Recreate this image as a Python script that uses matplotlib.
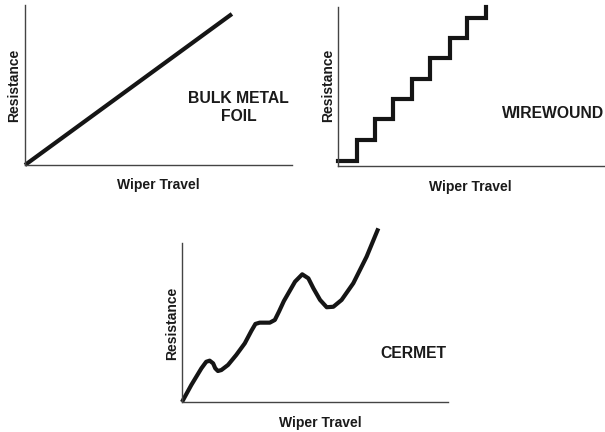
import numpy as np
import matplotlib.pyplot as plt

plt.rcParams['font.family'] = ['Liberation Sans', 'DejaVu Sans']

# bulk metal foil: straight line
foil_x = [0, 77.5]
foil_y = [0, 94.4]

# wirewound: step edges and levels
wire_edges = [0, 7.1, 13.9, 20.6, 27.7, 34.5, 41.9, 48.3, 55.4]
wire_levels = [3.1, 16.4, 29.6, 42.1, 54.7, 67.9, 80.5, 93.1, 100]

# cermet: wavy curve
cermet_x = [0, 3.5, 7.3, 9.1, 10.4, 11.7, 12.5, 13.5, 14.8, 17.3, 20.4, 23.6,
            26.1, 27.6, 29.2, 33.0, 34.9, 36.5, 38.3, 42.5, 45.2, 47.5, 49.4,
            51.9, 54.4, 56.9, 60.0, 64.4, 69.4, 73.8]
cermet_y = [0, 10.7, 21.2, 25.3, 26.0, 24.3, 21.2, 19.5, 20.1, 23.3, 29.6, 36.9,
            44.8, 49.1, 49.9, 49.9, 51.6, 57.0, 63.5, 75.7, 80.3, 77.8, 71.5,
            64.2, 59.6, 59.9, 64.2, 74.7, 91.4, 109.2]

LINE = '#151515'
TXT = '#1a1a1a'


def setup(ax, name, name_pos, xl_pos, yl_pos):
    ax.set_xlim(0, 100)
    ax.set_ylim(0, 100)
    for s in ['top', 'right']:
        ax.spines[s].set_visible(False)
    for s in ['left', 'bottom']:
        ax.spines[s].set_color('#444444')
        ax.spines[s].set_linewidth(1.0)
    ax.set_xticks([])
    ax.set_yticks([])
    ax.text(xl_pos[0], xl_pos[1], 'Wiper Travel', transform=ax.transAxes,
            ha='center', va='center', fontsize=10, fontweight='bold', color=TXT)
    ax.text(yl_pos[0], yl_pos[1], 'Resistance', transform=ax.transAxes,
            ha='center', va='center', rotation=90, fontsize=10,
            fontweight='bold', color=TXT)
    ax.text(name_pos[0], name_pos[1], name, transform=ax.transAxes,
            ha='center', va='center', fontsize=11.3, fontweight='bold',
            color=TXT, linespacing=1.25)


fig = plt.figure(figsize=(6.05, 4.32), dpi=100)

ax1 = fig.add_axes([25 / 605, 267 / 432, 267 / 605, 160 / 432])
ax1.plot(foil_x, foil_y, color=LINE, lw=3.0, solid_capstyle='butt', clip_on=False)
setup(ax1, 'BULK METAL\nFOIL', (0.80, 0.36), (0.5, -0.125), (-0.041, 0.5))

ax2 = fig.add_axes([338 / 605, 266 / 432, 267 / 605, 159 / 432])
sx, sy = [], []
for i in range(len(wire_levels) - 1):
    sx += [wire_edges[i], wire_edges[i + 1]]
    sy += [wire_levels[i], wire_levels[i]]
sx.append(wire_edges[-1])
sy.append(wire_levels[-1])
ax2.plot(sx, sy, color=LINE, lw=3.0, solid_joinstyle='miter', clip_on=False)
setup(ax2, 'WIREWOUND', (0.805, 0.333), (0.494, -0.132), (-0.037, 0.51))

ax3 = fig.add_axes([182 / 605, 30 / 432, 266 / 605, 159 / 432])
ax3.plot(cermet_x, cermet_y, color=LINE, lw=3.0, solid_joinstyle='round',
         solid_capstyle='butt', clip_on=False)
setup(ax3, 'CERMET', (0.868, 0.308), (0.519, -0.132), (-0.038, 0.497))

fig.savefig('out.png', dpi=100)
